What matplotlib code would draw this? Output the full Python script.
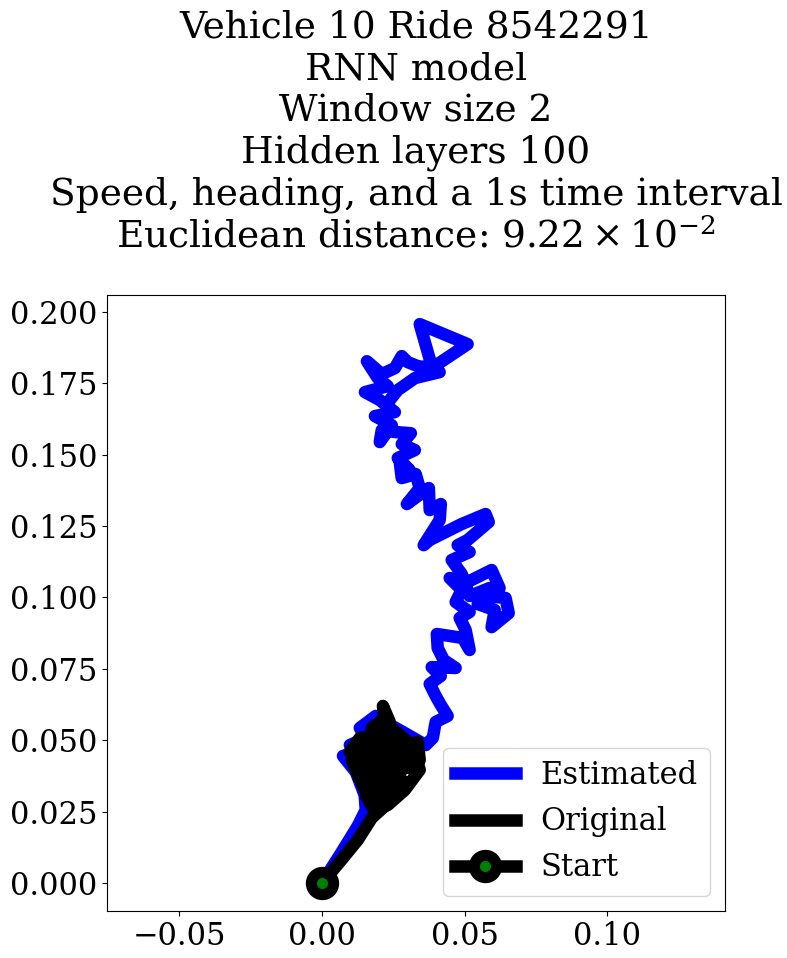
import matplotlib.pyplot as plt
import numpy as np

plt.rcParams['font.family'] = 'DejaVu Serif'
plt.rcParams['mathtext.fontset'] = 'dejavuserif'

# estimated trajectory (RNN output)
est_x = [0.0000, 0.0063, 0.0126, 0.0154, 0.0150, 0.0119, 0.0074, 0.0119, 0.0098, 0.0154,
         0.0133, 0.0189, 0.0221, 0.0291, 0.0364, 0.0389, 0.0399, 0.0441, 0.0417, 0.0399,
         0.0378, 0.0417, 0.0385, 0.0469, 0.0427, 0.0406, 0.0403, 0.0494, 0.0518, 0.0504,
         0.0483, 0.0518, 0.0469, 0.0490, 0.0448, 0.0511, 0.0595, 0.0623, 0.0574, 0.0644,
         0.0655, 0.0595, 0.0606, 0.0546, 0.0588, 0.0518, 0.0490, 0.0455, 0.0518, 0.0476,
         0.0511, 0.0585, 0.0574, 0.0490, 0.0448, 0.0378, 0.0357, 0.0413, 0.0417, 0.0378,
         0.0375, 0.0340, 0.0298, 0.0343, 0.0329, 0.0280, 0.0273, 0.0308, 0.0266, 0.0326,
         0.0280, 0.0312, 0.0259, 0.0210, 0.0203, 0.0245, 0.0186, 0.0256, 0.0203, 0.0151,
         0.0231, 0.0196, 0.0158, 0.0210, 0.0256, 0.0280, 0.0301, 0.0336, 0.0385, 0.0511,
         0.0343, 0.0385, 0.0413, 0.0326, 0.0266, 0.0238]
est_y = [0.0000, 0.0098, 0.0200, 0.0256, 0.0308, 0.0389, 0.0445, 0.0459, 0.0483, 0.0508,
         0.0543, 0.0585, 0.0564, 0.0525, 0.0483, 0.0508, 0.0564, 0.0585, 0.0623, 0.0655,
         0.0697, 0.0725, 0.0756, 0.0753, 0.0781, 0.0823, 0.0872, 0.0858, 0.0816, 0.0886,
         0.0928, 0.0949, 0.0984, 0.1026, 0.1068, 0.1054, 0.1096, 0.1033, 0.1005, 0.0998,
         0.0945, 0.0896, 0.0956, 0.0977, 0.1033, 0.1005, 0.1082, 0.1131, 0.1159, 0.1183,
         0.1201, 0.1264, 0.1292, 0.1257, 0.1236, 0.1201, 0.1183, 0.1271, 0.1327, 0.1306,
         0.1383, 0.1358, 0.1327, 0.1383, 0.1432, 0.1418, 0.1474, 0.1446, 0.1488, 0.1516,
         0.1537, 0.1575, 0.1579, 0.1586, 0.1544, 0.1603, 0.1635, 0.1649, 0.1691, 0.1719,
         0.1740, 0.1768, 0.1827, 0.1782, 0.1803, 0.1845, 0.1824, 0.1810, 0.1803, 0.1887,
         0.1957, 0.1810, 0.1789, 0.1768, 0.1726, 0.1691]

# original trajectory
orig_x = [0.0000, 0.0063, 0.0126, 0.0175, 0.0245, 0.0266, 0.0186, 0.0154, 0.0238, 0.0291,
          0.0221, 0.0140, 0.0119, 0.0203, 0.0308, 0.0343, 0.0336, 0.0273, 0.0186, 0.0098,
          0.0133, 0.0203, 0.0263, 0.0315, 0.0245, 0.0175, 0.0221, 0.0214, 0.0238, 0.0245,
          0.0291, 0.0256, 0.0175, 0.0147, 0.0161, 0.0238, 0.0301, 0.0273, 0.0221, 0.0196,
          0.0256, 0.0203, 0.0168, 0.0105, 0.0151, 0.0196, 0.0256, 0.0326, 0.0343, 0.0291,
          0.0231, 0.0186, 0.0151, 0.0175, 0.0238, 0.0280, 0.0203, 0.0133, 0.0112, 0.0140]
orig_y = [0.0000, 0.0074, 0.0151, 0.0228, 0.0291, 0.0333, 0.0249, 0.0308, 0.0326, 0.0354,
          0.0378, 0.0361, 0.0413, 0.0413, 0.0403, 0.0431, 0.0494, 0.0466, 0.0459, 0.0459,
          0.0508, 0.0518, 0.0508, 0.0483, 0.0543, 0.0543, 0.0578, 0.0620, 0.0564, 0.0473,
          0.0431, 0.0389, 0.0378, 0.0431, 0.0494, 0.0494, 0.0459, 0.0378, 0.0298, 0.0273,
          0.0308, 0.0343, 0.0291, 0.0431, 0.0473, 0.0431, 0.0459, 0.0459, 0.0396, 0.0326,
          0.0273, 0.0256, 0.0326, 0.0406, 0.0431, 0.0494, 0.0494, 0.0448, 0.0410, 0.0350]

title_lines = ['Vehicle 10 Ride 8542291', 'RNN model', 'Window size 2', 'Hidden layers 100',
               'Speed, heading, and a 1s time interval',
               r'Euclidean distance: $9.22\times10^{-2}$']

fig = plt.figure(figsize=(7.87, 9.58), dpi=100)
ax = fig.add_axes([107 / 787, 47 / 958, 618 / 787, 616 / 958])

ax.plot(est_x, est_y, color='blue', lw=9, label='Estimated')
ax.plot(orig_x, orig_y, color='black', lw=9, label='Original')
ax.plot(orig_x[0], orig_y[0], 'o-', color='black', mfc='green', mec='black',
        ms=16, mew=8, lw=9, label='Start')

ax.set_xlim(-0.0753, 0.1413)
ax.set_ylim(-0.0098, 0.2059)
ax.set_xticks([-0.05, 0.0, 0.05, 0.10])
ax.set_yticks(np.arange(0, 0.201, 0.025))
ax.tick_params(labelsize=22)

ax.legend(loc='lower right', fontsize=22)
ax.set_title('\n'.join(title_lines), fontsize=27, pad=34)

fig.savefig('out.png', dpi=100)
